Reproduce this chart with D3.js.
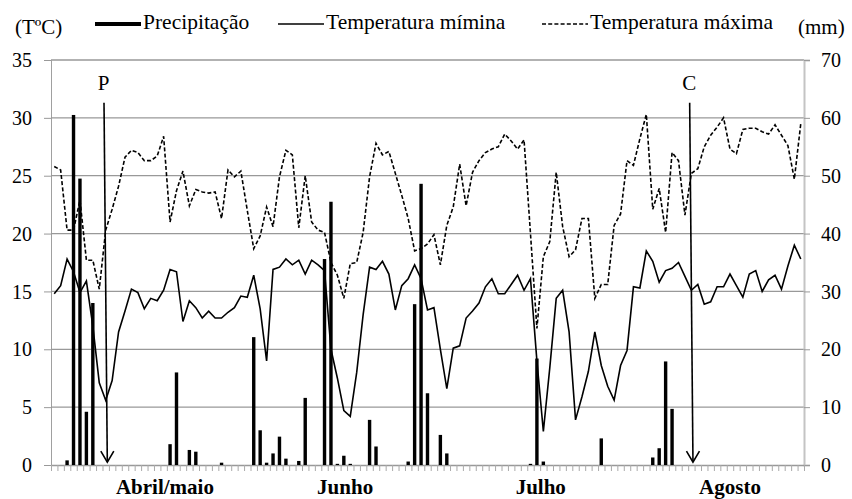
<!DOCTYPE html>
<html lang="pt">
<head>
<meta charset="UTF-8">
<script src="https://d3js.org/d3.v7.min.js"></script>
<style>
  body { margin: 0; background: #fff; }
  svg { display: block; font-family: "Liberation Serif", "Times New Roman", serif; }
</style>
</head>
<body>
<svg id="chart" width="852" height="499"></svg>
<script>
// daily precipitation (mm), 117 days
var precip = [0,0,0.8,60.5,49.5,9.2,28,0,0,0, 0,0,0,0,0,0,0,0,3.6,16, 0,2.6,2.3,0,0,0,0.4,0,0,0,
  0,22.1,6,0.4,2,4.9,1.1,0,0.7,11.6, 0,0,35.6,45.5,0.2,1.6,0.2,0,0,7.8, 3.2,0,0,0,0,0.6,27.8,48.6,12.4,0,
  5.2,2,0,0,0,0,0,0,0,0, 0,0,0,0,0.2,18.4,0.6,0,0,0, 0,0,0,0,0,4.6,0,0,0,0,
  0,0,0,1.3,2.9,17.9,9.7,0,0,0, 0,0,0,0,0,0,0,0,0,0, 0,0,0,0,0,0,0];
// minimum temperature (°C)
var tmin = [14.8,15.5,17.8,16.7,14.9,15.9,12,7.1,5.6,7.3, 11.5,13.3,15.2,14.9,13.5,14.4,14.2,15.1,16.9,16.7,
  12.4,14.2,13.6,12.7,13.3,12.7,12.7,13.2,13.6,14.6, 14.5,16.4,13.5,9.0,16.9,17.1,17.8,17.3,17.7,16.5,
  17.7,17.3,16.8,10,7.5,4.7,4.2,8,13,17.1, 16.9,17.6,16.5,13.4,15.5,16.1,17.3,16.1,13.4,13.6,
  10,6.6,10.1,10.3,12.7,13.3,14,15.4,16.1,14.8, 14.8,15.6,16.4,15.1,16.1,9,2.9,8.4,14.4,15.1,
  11.5,3.9,5.9,8.1,11.5,8.6,6.8,5.6,8.6,9.9, 15.4,15.3,18.5,17.6,15.8,16.8,17.0,17.5,16.3,15.1,
  15.6,13.9,14.1,15.4,15.4,16.5,15.5,14.5,16.5,16.8, 15,16,16.4,15.2,17.2,19,17.8];
// maximum temperature (°C)
var tmax = [25.8,25.5,20.3,20.3,22.9,17.7,17.7,15.2,20.3,22.1, 24.1,26.6,27.2,27,26.3,26.3,26.7,28.4,21,23.7,
  25.4,22.4,23.8,23.6,23.5,23.6,21.3,25.5,24.9,25.4, 22,18.7,19.8,22.3,20.6,24.9,27.2,26.8,20.5,25,
  21,20.3,20.1,17.5,16.4,14.4,17.4,17.5,20.1,24.9, 27.8,26.8,27.1,25.2,23.3,21.3,18.5,18.7,19.1,19.9,
  17.3,20.7,22.3,26,22.4,25.3,26.3,27,27.3,27.5, 28.6,28,27.3,28.1,20,11.8,18,19.3,25.3,20.6,
  18,18.6,21.3,21.3,14.4,15.6,15.6,20.7,21.7,26.3, 25.9,28.2,30.3,22.1,23.9,20.1,27,26.3,21.6,25.2,
  25.6,27.5,28.5,29.2,30,27.3,26.9,29,29.1,29.1, 28.8,28.6,29.4,28.5,27.6,24.7,29.5];

var tempTicks = [0, 5, 10, 15, 20, 25, 30, 35];
var mmTicks = [0, 10, 20, 30, 40, 50, 60, 70];
var months = ["Abril/maio", "Junho", "Julho", "Agosto"];
var monthDays = [17.2, 45.2, 75.6, 105];
var marks = ["P", "C"];
var markDays = [8, 99];

var svg = d3.select("#chart");
var serif = "Liberation Serif, Times New Roman, serif";
var plotL = 51, plotR = 804, plotT = 60, plotB = 465;
var nDays = tmin.length;

var x = d3.scaleLinear().domain([0, nDays]).range([plotL, plotR]);
var yT = d3.scaleLinear().domain([0, 35]).range([plotB, plotT]);
var yP = d3.scaleLinear().domain([0, 70]).range([plotB, plotT]);
var cx = function (i) { return x(i + 0.5); };

function styleTicks(g) {
  g.selectAll(".tick text")
    .style("font-family", serif).style("font-size", "20px")
    .attr("fill", "#000").attr("dy", "0.33em");
}

// left axis + gridlines
var gL = svg.append("g").attr("transform", "translate(" + plotL + ",0)")
  .call(d3.axisLeft(yT).tickValues(tempTicks).tickSize(7).tickPadding(12));
gL.select(".domain").attr("stroke", "#a0a0a0");
gL.selectAll(".tick line").attr("stroke", "#999");
styleTicks(gL);

svg.append("g").selectAll("line").data(tempTicks.slice(1)).enter().append("line")
  .attr("x1", plotL).attr("x2", plotR)
  .attr("y1", function (d) { return yT(d); }).attr("y2", function (d) { return yT(d); })
  .attr("stroke", "#999").attr("stroke-width", 1.3);

// right axis
var gR = svg.append("g").attr("transform", "translate(" + plotR + ",0)")
  .call(d3.axisRight(yP).tickValues(mmTicks).tickSize(6).tickPadding(11));
gR.select(".domain").attr("stroke", "#c4c4c4").attr("stroke-width", 2);
gR.selectAll(".tick line").attr("stroke", "#999");
styleTicks(gR);

// bottom axis: one tick per day boundary, no labels
var gB = svg.append("g").attr("transform", "translate(0," + plotB + ")")
  .call(d3.axisBottom(x).tickValues(d3.range(nDays + 1)).tickSize(6).tickSizeOuter(0).tickFormat(""));
gB.select(".domain").attr("stroke", "#999").attr("stroke-width", 1.3);
gB.selectAll(".tick line").attr("stroke", "#aaa");

// precipitation bars
var wetDays = d3.range(nDays).filter(function (i) { return precip[i] > 0; });
svg.append("g").selectAll("rect").data(wetDays).enter().append("rect")
  .attr("x", function (i) { return cx(i) - 1.7; })
  .attr("width", 3.4)
  .attr("y", function (i) { return yP(precip[i]); })
  .attr("height", function (i) { return plotB - yP(precip[i]); })
  .attr("fill", "#000");

// temperature lines
var line = d3.line().x(function (d, i) { return cx(i); }).y(function (d) { return yT(d); });
svg.append("path").datum(tmin).attr("d", line)
  .attr("fill", "none").attr("stroke", "#000").attr("stroke-width", 1.6);
svg.append("path").datum(tmax).attr("d", line)
  .attr("fill", "none").attr("stroke", "#000").attr("stroke-width", 1.6)
  .attr("stroke-dasharray", "4,2.2");

// P / C arrows
marks.forEach(function (m, k) {
  var xa = cx(markDays[k]);
  var g = svg.append("g").attr("stroke", "#000").attr("stroke-width", 1.6).attr("fill", "none");
  var x0 = xa - 1.7, y0 = yT(31.3), x1 = xa + 1.6, y1 = yT(0.25);
  g.append("line").attr("x1", x0).attr("y1", y0).attr("x2", x1).attr("y2", y1);
  g.append("path").attr("d", "M" + (x1 - 6.5) + "," + (y1 - 11) + "L" + x1 + "," + y1 + "L" + (x1 + 6.5) + "," + (y1 - 11));
  svg.append("text").attr("x", x0 - 0.5).attr("y", yT(32.4)).attr("text-anchor", "middle")
    .attr("font-size", 21).text(m);
});

// month labels
svg.append("g").selectAll("text").data(months).enter().append("text")
  .attr("x", function (d, i) { return cx(monthDays[i]); })
  .attr("y", 494).attr("text-anchor", "middle")
  .attr("font-size", 21).attr("font-weight", "bold").text(function (d) { return d; });

// axis titles
svg.append("text").attr("x", 15).attr("y", 34).attr("font-size", 21).text("(TºC)");
svg.append("text").attr("x", 798).attr("y", 34).attr("font-size", 21).text("(mm)");

// legend
var legend = [
  { name: "Precipitação", x: 95, w: 4, dash: null },
  { name: "Temperatura mímina", x: 278, w: 1.6, dash: null },
  { name: "Temperatura máxima", x: 542, w: 1.6, dash: "4,2.2" }
];
legend.forEach(function (l) {
  svg.append("line").attr("x1", l.x).attr("x2", l.x + 46).attr("y1", 24).attr("y2", 24)
    .attr("stroke", "#000").attr("stroke-width", l.w).attr("stroke-dasharray", l.dash);
  svg.append("text").attr("x", l.x + 48).attr("y", 29).attr("font-size", 21.5).text(l.name);
});
</script>
</body>
</html>
